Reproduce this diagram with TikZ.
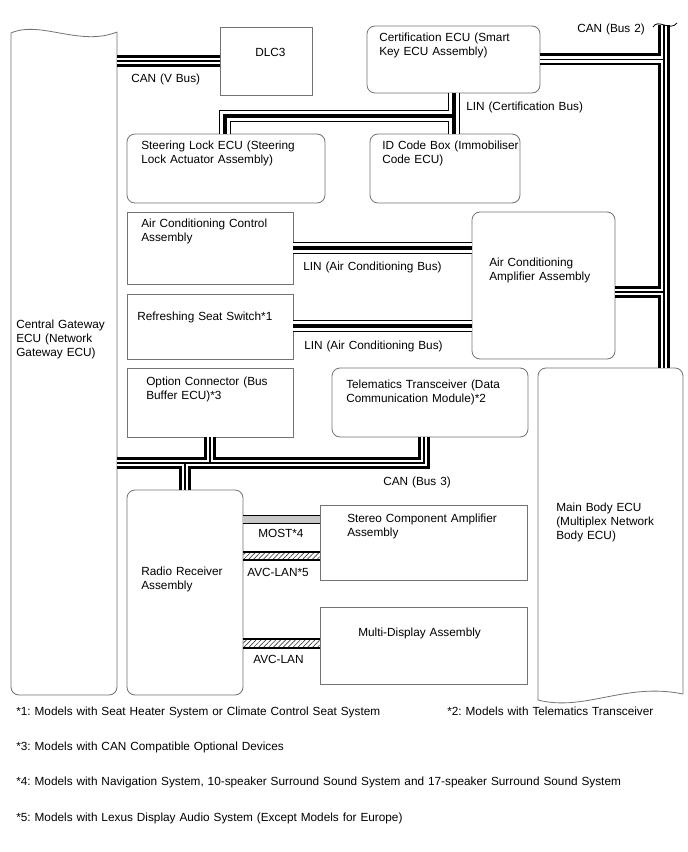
\documentclass[tikz,border=0pt]{standalone}
\usepackage{fontspec}
\setmainfont{Liberation Sans}
\usetikzlibrary{fit,calc,patterns.meta}
\frenchspacing
\newcommand\fs{\fontsize{8.85}{10.5}\selectfont\frenchspacing}
\newcommand\canbus[1]{%
  \draw[line width=9pt, line join=miter] #1;%
  \draw[line width=4.9pt, white, line join=miter] #1;%
  \draw[line width=0.9pt, line join=miter] #1;}
\newcommand\linbus[1]{%
  \draw[line width=9pt, line join=miter] #1;%
  \draw[line width=7.3pt, white, line join=miter] #1;%
  \draw[line width=2.5pt, line join=miter] #1;}
\tikzset{
  box/.style={draw=black!55, line width=0.6pt, inner sep=0pt},
  rbox/.style={box, rounded corners=6pt},
  hid/.style={inner sep=0pt},
  txt/.style={anchor=base west, inner sep=0pt, font=\fs, align=left, text width=480pt},
  hatch/.style={pattern={Lines[angle=45,distance=2.6pt,line width=0.5pt]}, pattern color=black!75},
}
\begin{document}
\begin{tikzpicture}[x=0.75pt,y=-0.75pt]
\fill[white] (0,0) rectangle (688,852);
\useasboundingbox (0,0) rectangle (688,852);

% ---- wavy boxes ----
\node[hid, fit={(11,33) (117,695)}] (gw) {};
\draw[box, rounded corners=6pt] (117,32) -- (117,695) -- (11,695) -- (11,33);
\draw[box] (11,33) .. controls (40,20) and (80,47) .. (117,32);

\node[hid, fit={(538,368) (683,700)}] (mb) {};
\draw[box, rounded corners=6pt] (538,700) -- (538,368) -- (683,368) -- (683,694);
\draw[box] (538,700) .. controls (585,712) and (625,682) .. (683,694);

% ---- boxes ----
\node[box,  fit={(220,27) (312,95)}] (dlc) {};
\node[rbox, fit={(367,26) (540,93)}] (cert) {};
\node[rbox, fit={(127,134) (325,203)}] (sl) {};
\node[rbox, fit={(370,134) (520,203)}] (id) {};
\node[box,  fit={(127,212) (293,284)}] (acc) {};
\node[box,  fit={(127,294) (293,359)}] (rss) {};
\node[rbox, fit={(472,212) (615,359)}] (amp) {};
\node[box,  fit={(127,368) (293,437)}] (opt) {};
\node[rbox, fit={(332,368) (528,437)}] (tel) {};
\node[rbox, fit={(127,490) (243,695)}] (rr) {};
\node[box,  fit={(320,505) (527,580)}] (st) {};
\node[box,  fit={(320,607) (527,684)}] (md) {};

% ---- junction coordinates ----
\coordinate (b2top) at (664,25);
\coordinate (b2amp) at (664,292);
\coordinate (lc) at (454,116);
\coordinate (lb) at (225,116);
\coordinate (b3) at (424,463);
\coordinate (o3) at (210,463);
\coordinate (r3) at (185,463);

% ---- CAN buses ----
\canbus{(gw.east |- dlc.west) -- (dlc.west)}
\canbus{(cert.east) -- (cert.east -| b2top) (b2top) -- (b2top |- mb.north) (amp.east |- b2amp) -- (b2amp)}
\draw[line width=0.6pt] (653,27) .. controls (658,18) and (670,32) .. (677,23);
\canbus{(gw.east |- b3) -- (b3) -- (b3 |- tel.south) (o3 |- opt.south) -- (o3) (r3) -- (r3 |- rr.north)}

% ---- LIN buses ----
\linbus{(lc |- cert.south) -- (lc |- id.north) (lc) -- (lb) -- (lb |- sl.north)}
\coordinate (l1) at (0,248);
\coordinate (l2) at (0,326);
\linbus{(acc.east |- l1) -- (amp.west |- l1) (rss.east |- l2) -- (amp.west |- l2)}

% ---- MOST ----
\coordinate (m1) at (0,519.5);
\draw[line width=6.75pt] (rr.east |- m1) -- (st.west |- m1);
\draw[line width=4.9pt, black!22] (rr.east |- m1) -- (st.west |- m1);

% ---- AVC-LAN ----
\coordinate (a1t) at (0,552); \coordinate (a1b) at (0,560);
\fill[hatch] (rr.east |- a1t) rectangle (st.west |- a1b);
\draw[line width=1pt] (rr.east |- a1t) -- (st.west |- a1t) (rr.east |- a1b) -- (st.west |- a1b);
\coordinate (a2t) at (0,639); \coordinate (a2b) at (0,648);
\fill[hatch] (rr.east |- a2t) rectangle (md.west |- a2b);
\draw[line width=1pt] (rr.east |- a2t) -- (md.west |- a2t) (rr.east |- a2b) -- (md.west |- a2b);

% ---- texts ----
\node[txt] (tdlc) at (255,57) {DLC3};
\node[txt] (lv) at (131,83) {CAN (V Bus)};
\node[txt] (tcert) at (379,42) {Certification ECU (Smart\\Key ECU Assembly)};
\node[txt] (lb2) at (577,33) {CAN (Bus 2)};
\node[txt] (llc) at (466,111) {LIN (Certification Bus)};
\node[txt] (tsl) at (141,150) {Steering Lock ECU (Steering\\Lock Actuator Assembly)};
\node[txt] (tid) at (382,150) {ID Code Box (Immobiliser\\Code ECU)};
\node[txt] (tacc) at (141,228) {Air Conditioning Control\\Assembly};
\node[txt] (trss) at (137,320) {Refreshing Seat Switch*1};
\node[txt] (llin1) at (303,270) {LIN (Air Conditioning Bus)};
\node[txt] (llin2) at (304,349) {LIN (Air Conditioning Bus)};
\node[txt] (tamp) at (489,266) {Air Conditioning\\Amplifier Assembly};
\node[txt] (tgw) at (16,328) {Central Gateway\\ECU (Network\\Gateway ECU)};
\node[txt] (topt) at (146,385) {Option Connector (Bus\\Buffer ECU)*3};
\node[txt] (ttel) at (346,388) {Telematics Transceiver (Data\\Communication Module)*2};
\node[txt] (lb3) at (383,485) {CAN (Bus 3)};
\node[txt] (tmb) at (556,511) {Main Body ECU\\(Multiplex Network\\Body ECU)};
\node[txt] (trr) at (141,575) {Radio Receiver\\Assembly};
\node[txt] (tst) at (347,522) {Stereo Component Amplifier\\Assembly};
\node[txt] (lmost) at (258,537) {MOST*4};
\node[txt] (lavc5) at (247,576) {AVC-LAN*5};
\node[txt] (tmd) at (358,636) {Multi-Display Assembly};
\node[txt] (lavc) at (253,663) {AVC-LAN};

% ---- footnotes ----
\node[txt] (f1) at (16,715) {*1: Models with Seat Heater System or Climate Control Seat System};
\node[txt] (f2) at (447,715) {*2: Models with Telematics Transceiver};
\node[txt] (f3) at (16,750) {*3: Models with CAN Compatible Optional Devices};
\node[txt] (f4) at (16,785) {*4: Models with Navigation System, 10-speaker Surround Sound System and 17-speaker Surround Sound System};
\node[txt] (f5) at (16,821) {*5: Models with Lexus Display Audio System (Except Models for Europe)};
\end{tikzpicture}
\end{document}
